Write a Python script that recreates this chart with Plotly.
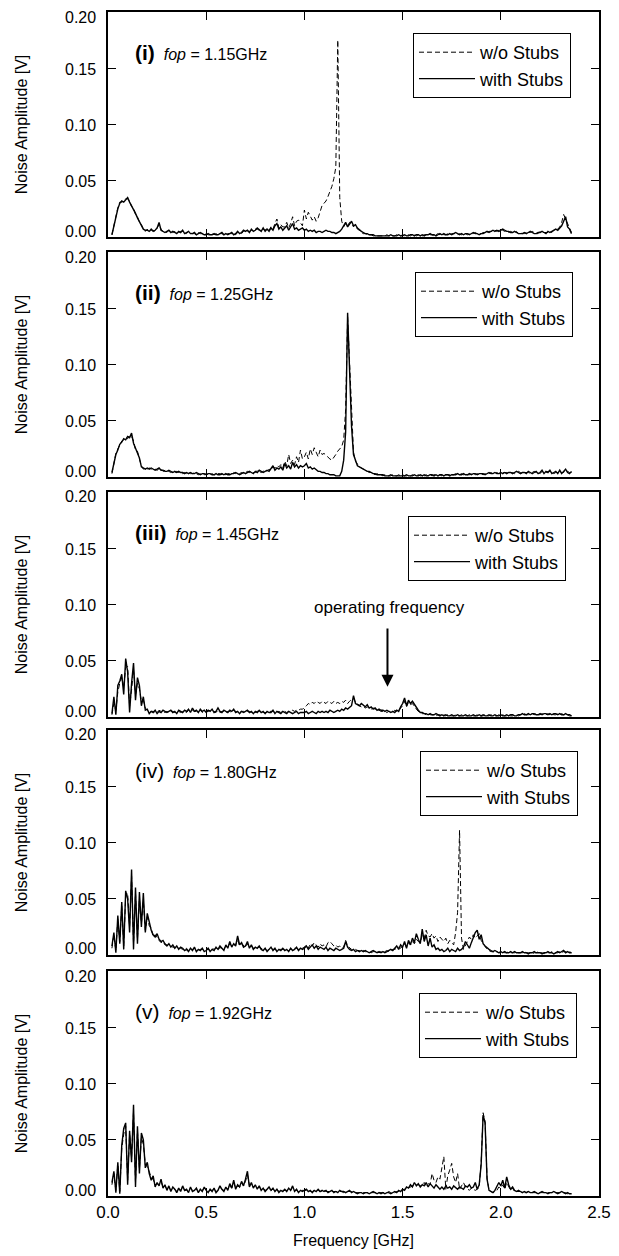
import plotly.graph_objects as go

# ---------------- data (amplitudes, in mV) ----------------
FREQ_GHZ = [
    0.02, 0.03, 0.04, 0.05, 0.06, 0.07, 0.08, 0.09,
    0.10, 0.11, 0.12, 0.13, 0.14, 0.15, 0.16, 0.17, 0.18, 0.19,
    0.20, 0.21, 0.22, 0.23, 0.24, 0.25, 0.26, 0.27, 0.28, 0.29,
    0.30, 0.31, 0.32, 0.33, 0.34, 0.35, 0.36, 0.37, 0.38, 0.39,
    0.40, 0.41, 0.42, 0.43, 0.44, 0.45, 0.46, 0.47, 0.48, 0.49,
    0.50, 0.51, 0.52, 0.53, 0.54, 0.55, 0.56, 0.57, 0.58, 0.59,
    0.60, 0.61, 0.62, 0.63, 0.64, 0.65, 0.66, 0.67, 0.68, 0.69,
    0.70, 0.71, 0.72, 0.73, 0.74, 0.75, 0.76, 0.77, 0.78, 0.79,
    0.80, 0.81, 0.82, 0.83, 0.84, 0.85, 0.86, 0.87, 0.88, 0.89,
    0.90, 0.91, 0.92, 0.93, 0.94, 0.95, 0.96, 0.97, 0.98, 0.99,
    1.00, 1.01, 1.02, 1.03, 1.04, 1.05, 1.06, 1.07, 1.08, 1.09,
    1.10, 1.11, 1.12, 1.13, 1.14, 1.15, 1.16, 1.17, 1.18, 1.19,
    1.20, 1.21, 1.22, 1.23, 1.24, 1.25, 1.26, 1.27, 1.28, 1.29,
    1.30, 1.31, 1.32, 1.33, 1.34, 1.35, 1.36, 1.37, 1.38, 1.39,
    1.40, 1.41, 1.42, 1.43, 1.44, 1.45, 1.46, 1.47, 1.48, 1.49,
    1.50, 1.51, 1.52, 1.53, 1.54, 1.55, 1.56, 1.57, 1.58, 1.59,
    1.60, 1.61, 1.62, 1.63, 1.64, 1.65, 1.66, 1.67, 1.68, 1.69,
    1.70, 1.71, 1.72, 1.73, 1.74, 1.75, 1.76, 1.77, 1.78, 1.79,
    1.80, 1.81, 1.82, 1.83, 1.84, 1.85, 1.86, 1.87, 1.88, 1.89,
    1.90, 1.91, 1.92, 1.93, 1.94, 1.95, 1.96, 1.97, 1.98, 1.99,
    2.00, 2.01, 2.02, 2.03, 2.04, 2.05, 2.06, 2.07, 2.08, 2.09,
    2.10, 2.11, 2.12, 2.13, 2.14, 2.15, 2.16, 2.17, 2.18, 2.19,
    2.20, 2.21, 2.22, 2.23, 2.24, 2.25, 2.26, 2.27, 2.28, 2.29,
    2.30, 2.31, 2.32, 2.33, 2.34, 2.35, 2.36,
]

# ---- panel (i), f_op = 1.15 GHz ----
WO_STUBS_I_MV = [
    2, 11, 17, 26, 31, 31, 32, 34,
    34, 32, 27, 26, 20, 18, 13, 11, 7, 5,
    7, 5, 6, 6, 5, 8, 11, 7, 5, 5,
    4, 6, 5, 4, 5, 3, 4, 5, 5, 3,
    3, 5, 4, 3, 3, 2, 4, 3, 3, 2,
    3, 2, 2, 3, 2, 3, 2, 3, 3, 2,
    2, 3, 3, 3, 3, 2, 4, 4, 3, 5,
    6, 5, 5, 6, 6, 7, 7, 6, 6, 7,
    6, 8, 6, 9, 7, 12, 16, 8, 11, 9,
    9, 13, 8, 12, 18, 10, 14, 15, 12, 10,
    24, 16, 22, 19, 15, 18, 14, 17, 22, 28,
    30, 32, 36, 40, 45, 52, 62, 175, 35, 14,
    9, 12, 10, 13, 12, 9, 11, 7, 6, 4,
    3, 3, 2, 2, 2, 1, 1, 1, 1, 1,
    1, 1, 2, 1, 1, 1, 1, 2, 1, 1,
    2, 1, 1, 2, 1, 2, 2, 1, 2, 2,
    1, 2, 2, 3, 2, 2, 1, 2, 3, 2,
    3, 2, 2, 3, 2, 3, 3, 3, 2, 3,
    2, 3, 3, 2, 3, 3, 3, 4, 3, 3,
    3, 4, 4, 4, 5, 5, 5, 6, 5, 6,
    7, 6, 5, 6, 4, 5, 4, 4, 5, 3,
    4, 3, 3, 4, 4, 4, 5, 4, 3, 3,
    5, 4, 4, 4, 4, 5, 4, 6, 6, 7,
    9, 13, 20, 16, 12, 8, 4,
]
WITH_STUBS_I_MV = [
    2, 10, 18, 25, 30, 32, 31, 33,
    35, 31, 28, 25, 21, 17, 14, 10, 7, 6,
    6, 5, 7, 5, 6, 8, 13, 6, 5, 4,
    5, 6, 4, 5, 4, 3, 5, 4, 6, 3,
    4, 5, 3, 3, 4, 2, 3, 4, 3, 2,
    2, 3, 2, 2, 3, 2, 2, 3, 4, 2,
    3, 2, 3, 4, 2, 3, 5, 3, 4, 6,
    5, 6, 4, 7, 5, 6, 8, 6, 5, 8,
    5, 7, 5, 8, 6, 10, 12, 7, 9, 6,
    8, 10, 6, 9, 12, 7, 8, 6, 7, 8,
    6, 7, 5, 6, 5, 6, 4, 5, 5, 4,
    5, 6, 5, 5, 4, 4, 3, 4, 5, 7,
    10, 13, 9, 12, 14, 10, 11, 8, 6, 5,
    4, 3, 3, 2, 2, 2, 1, 1, 1, 1,
    1, 1, 1, 1, 2, 1, 1, 1, 2, 1,
    1, 2, 1, 1, 2, 2, 1, 2, 2, 1,
    2, 1, 2, 2, 3, 2, 2, 1, 2, 3,
    2, 3, 2, 2, 3, 2, 3, 4, 3, 2,
    3, 2, 3, 3, 2, 3, 4, 3, 3, 2,
    3, 3, 4, 5, 4, 5, 6, 5, 6, 5,
    6, 7, 6, 5, 5, 4, 4, 5, 4, 3,
    3, 3, 4, 3, 4, 5, 4, 3, 3, 4,
    4, 5, 4, 3, 5, 4, 5, 6, 7, 6,
    8, 10, 14, 18, 9, 7, 3,
]

# ---- panel (ii), f_op = 1.25 GHz ----
WO_STUBS_II_MV = [
    3, 11, 21, 25, 28, 32, 33, 35,
    34, 37, 36, 32, 24, 23, 16, 10, 7, 8,
    7, 8, 7, 6, 7, 6, 7, 7, 5, 6,
    6, 5, 4, 5, 4, 5, 4, 4, 3, 4,
    3, 4, 3, 3, 4, 3, 2, 3, 3, 2,
    3, 2, 2, 3, 2, 2, 3, 3, 2, 3,
    2, 3, 3, 2, 4, 3, 3, 3, 4, 3,
    4, 5, 4, 5, 4, 4, 6, 5, 4, 5,
    6, 5, 7, 6, 9, 8, 10, 9, 11, 8,
    14, 10, 20, 12, 15, 11, 18, 13, 24, 16,
    18, 22, 16, 25, 20, 26, 22, 18, 24, 20,
    21, 19, 18, 16, 15, 17, 20, 23, 25, 27,
    33, 60, 142, 100, 55, 22, 14, 11, 9, 8,
    7, 6, 5, 4, 4, 3, 2, 3, 2, 2,
    1, 2, 1, 1, 1, 2, 1, 1, 2, 1,
    2, 1, 1, 2, 1, 2, 1, 1, 2, 1,
    2, 1, 2, 1, 2, 1, 2, 2, 1, 2,
    1, 2, 2, 2, 2, 1, 2, 3, 2, 2,
    3, 2, 3, 2, 2, 3, 3, 2, 3, 2,
    3, 2, 3, 3, 3, 4, 3, 3, 4, 3,
    3, 4, 4, 4, 3, 4, 4, 3, 4, 5,
    4, 3, 4, 4, 4, 3, 4, 5, 4, 4,
    3, 5, 4, 4, 5, 5, 4, 3, 4, 4,
    5, 4, 4, 6, 5, 4, 4,
]
WITH_STUBS_II_MV = [
    4, 12, 20, 24, 29, 31, 34, 33,
    36, 35, 39, 30, 26, 22, 17, 9, 8, 7,
    8, 7, 8, 7, 6, 7, 8, 6, 6, 5,
    5, 6, 5, 4, 5, 4, 5, 4, 4, 3,
    4, 3, 4, 3, 3, 4, 3, 2, 3, 3,
    2, 3, 3, 2, 2, 3, 2, 2, 3, 2,
    3, 2, 2, 3, 3, 4, 3, 2, 3, 4,
    3, 4, 5, 4, 3, 5, 4, 6, 5, 4,
    5, 6, 5, 7, 10, 6, 8, 7, 9, 6,
    12, 8, 10, 7, 13, 9, 11, 8, 10, 9,
    10, 12, 8, 9, 7, 8, 6, 5, 5, 4,
    4, 3, 3, 2, 2, 2, 1, 1, 1, 5,
    15, 40, 146, 95, 45, 20, 14, 10, 9, 8,
    7, 6, 5, 5, 4, 3, 3, 2, 2, 2,
    2, 1, 1, 1, 2, 1, 1, 1, 1, 1,
    1, 1, 2, 1, 1, 1, 2, 1, 1, 2,
    1, 2, 1, 1, 2, 2, 1, 2, 1, 2,
    2, 1, 2, 2, 1, 2, 2, 2, 3, 2,
    2, 3, 2, 2, 3, 2, 3, 3, 2, 3,
    3, 3, 2, 3, 4, 3, 3, 4, 3, 3,
    4, 3, 4, 3, 4, 4, 3, 4, 5, 4,
    3, 4, 4, 3, 5, 4, 3, 4, 5, 3,
    4, 6, 3, 5, 4, 6, 3, 4, 5, 3,
    6, 3, 5, 7, 4, 3, 5,
]

# ---- panel (iii), f_op = 1.45 GHz ----
WO_STUBS_III_MV = [
    2, 12, 6, 22, 30, 35, 26, 44,
    45, 10, 24, 42, 20, 30, 25, 14, 15, 8,
    6, 4, 5, 5, 4, 4, 6, 5, 5, 4,
    5, 4, 5, 5, 4, 4, 5, 4, 5, 5,
    4, 6, 5, 6, 5, 5, 5, 6, 4, 5,
    5, 5, 6, 5, 5, 4, 6, 4, 5, 5,
    4, 5, 5, 4, 6, 5, 4, 4, 5, 5,
    4, 5, 5, 4, 4, 4, 5, 5, 5, 4,
    4, 4, 5, 5, 5, 4, 4, 5, 4, 5,
    5, 4, 5, 5, 6, 5, 6, 6, 7, 7,
    8, 10, 12, 11, 13, 12, 14, 13, 12, 14,
    13, 12, 14, 13, 12, 14, 12, 13, 12, 14,
    13, 15, 12, 14, 16, 17, 13, 12, 10, 9,
    9, 8, 9, 8, 7, 8, 7, 6, 6, 5,
    5, 5, 4, 5, 5, 4, 6, 5, 6, 8,
    10, 14, 9, 13, 11, 12, 9, 7, 5, 4,
    3, 3, 2, 3, 2, 2, 2, 1, 2, 2,
    1, 2, 1, 2, 1, 1, 1, 2, 1, 1,
    2, 1, 1, 1, 2, 1, 1, 1, 2, 1,
    1, 1, 2, 1, 1, 2, 1, 1, 1, 2,
    1, 2, 1, 1, 2, 1, 1, 2, 2, 1,
    2, 2, 3, 2, 2, 2, 3, 2, 3, 2,
    2, 3, 2, 2, 3, 2, 3, 2, 2, 3,
    2, 3, 2, 2, 2, 1, 1,
]
WITH_STUBS_III_MV = [
    3, 18, 2, 28, 32, 38, 20, 52,
    40, 4, 30, 48, 15, 35, 28, 10, 18, 6,
    7, 3, 5, 4, 6, 3, 5, 4, 6, 5,
    4, 5, 6, 4, 5, 3, 6, 5, 4, 6,
    5, 7, 4, 8, 5, 6, 4, 7, 5, 6,
    4, 6, 5, 7, 4, 5, 8, 5, 4, 6,
    5, 4, 6, 5, 7, 4, 5, 3, 5, 4,
    5, 6, 4, 5, 3, 5, 4, 6, 4, 5,
    3, 5, 4, 4, 6, 3, 5, 4, 3, 5,
    4, 3, 5, 4, 3, 4, 5, 3, 4, 4,
    4, 5, 3, 4, 5, 4, 3, 5, 4, 5,
    4, 5, 4, 6, 5, 4, 5, 6, 5, 7,
    6, 8, 7, 9, 10, 19, 12, 11, 10, 12,
    10, 9, 11, 8, 9, 7, 8, 6, 7, 6,
    6, 5, 6, 5, 4, 5, 4, 6, 5, 9,
    12, 17, 10, 15, 12, 14, 11, 8, 6, 4,
    4, 3, 3, 2, 3, 2, 2, 3, 2, 1,
    2, 1, 2, 1, 1, 2, 1, 1, 2, 1,
    1, 1, 2, 1, 1, 1, 2, 1, 1, 2,
    1, 2, 1, 1, 2, 1, 1, 2, 1, 1,
    2, 1, 1, 2, 1, 2, 2, 1, 1, 2,
    2, 3, 2, 2, 3, 2, 3, 3, 2, 2,
    3, 2, 3, 3, 2, 3, 2, 3, 3, 2,
    3, 2, 2, 3, 2, 2, 1,
]

# ---- panel (iv), f_op = 1.80 GHz ----
WO_STUBS_IV_MV = [
    6, 18, 4, 32, 12, 44, 8, 52,
    55, 25, 70, 10, 55, 14, 50, 28, 48, 22,
    34, 26, 24, 16, 18, 15, 13, 11, 12, 9,
    9, 8, 8, 7, 7, 6, 6, 6, 5, 5,
    6, 4, 5, 5, 6, 4, 4, 5, 5, 4,
    5, 5, 4, 6, 5, 6, 4, 7, 5, 5,
    8, 7, 10, 8, 9, 9, 14, 8, 10, 8,
    7, 10, 7, 8, 6, 6, 7, 7, 6, 5,
    5, 4, 5, 6, 5, 5, 4, 5, 5, 5,
    5, 4, 4, 5, 5, 6, 6, 5, 5, 6,
    7, 9, 6, 10, 8, 11, 9, 7, 10, 8,
    9, 7, 11, 12, 10, 8, 9, 7, 8, 6,
    7, 13, 8, 6, 5, 4, 5, 4, 4, 3,
    4, 3, 3, 3, 2, 3, 3, 3, 2, 3,
    2, 3, 4, 3, 4, 5, 5, 6, 7, 6,
    8, 10, 7, 11, 9, 12, 10, 14, 12, 11,
    18, 15, 22, 17, 16, 19, 15, 17, 12, 16,
    14, 12, 15, 10, 13, 11, 9, 20, 38, 111,
    15, 5, 8, 12, 16, 14, 18, 15, 17, 19,
    13, 10, 7, 5, 4, 3, 3, 2, 3, 2,
    2, 3, 2, 2, 3, 2, 2, 2, 3, 2,
    2, 2, 3, 2, 2, 2, 1, 2, 2, 3,
    2, 2, 1, 2, 2, 2, 3, 2, 2, 2,
    3, 2, 3, 3, 2, 3, 2,
]
WITH_STUBS_IV_MV = [
    8, 20, 2, 35, 10, 47, 5, 57,
    50, 20, 76, 5, 60, 10, 56, 25, 55, 20,
    37, 28, 22, 18, 16, 19, 14, 12, 13, 10,
    8, 10, 7, 9, 6, 8, 5, 7, 6, 4,
    5, 3, 6, 4, 7, 3, 5, 4, 6, 3,
    4, 6, 3, 5, 4, 7, 5, 8, 6, 4,
    9, 6, 12, 7, 10, 8, 17, 9, 11, 7,
    8, 12, 6, 9, 5, 7, 6, 8, 5, 4,
    6, 3, 5, 7, 4, 6, 3, 5, 4, 6,
    4, 5, 3, 6, 4, 5, 7, 4, 6, 5,
    6, 8, 5, 7, 9, 6, 8, 5, 7, 6,
    5, 7, 4, 6, 5, 4, 6, 5, 4, 5,
    6, 12, 7, 5, 4, 5, 3, 4, 3, 4,
    3, 4, 3, 2, 3, 4, 3, 2, 3, 2,
    3, 2, 3, 4, 5, 4, 6, 8, 5, 9,
    7, 12, 6, 13, 9, 15, 11, 19, 14, 10,
    23, 12, 18, 8, 15, 7, 9, 5, 6, 4,
    5, 3, 4, 6, 3, 5, 4, 3, 6, 4,
    5, 7, 12, 9, 6, 11, 15, 20, 22, 14,
    18, 10, 8, 6, 5, 4, 3, 4, 3, 2,
    3, 2, 3, 2, 2, 3, 2, 3, 2, 2,
    2, 3, 2, 2, 1, 2, 2, 3, 2, 2,
    2, 1, 2, 2, 3, 2, 2, 1, 2, 3,
    2, 3, 4, 2, 3, 2, 2,
]

# ---- panel (v), f_op = 1.92 GHz ----
WO_STUBS_V_MV = [
    10, 20, 5, 28, 4, 42, 55, 62,
    14, 55, 34, 75, 12, 58, 24, 52, 46, 28,
    26, 22, 16, 15, 10, 11, 10, 13, 8, 9,
    6, 8, 5, 7, 6, 4, 6, 5, 8, 5,
    5, 4, 7, 5, 5, 6, 4, 5, 5, 7,
    5, 4, 5, 5, 6, 4, 5, 8, 6, 5,
    7, 6, 10, 7, 12, 7, 9, 8, 12, 9,
    13, 19, 9, 11, 8, 9, 7, 8, 6, 7,
    5, 6, 7, 5, 6, 5, 6, 4, 5, 5,
    5, 5, 6, 5, 8, 5, 5, 4, 5, 5,
    5, 5, 5, 4, 4, 5, 5, 5, 4, 4,
    5, 4, 4, 4, 4, 4, 4, 4, 4, 4,
    3, 4, 4, 4, 4, 3, 3, 3, 3, 3,
    3, 3, 3, 3, 3, 3, 3, 3, 3, 3,
    3, 3, 3, 4, 3, 3, 3, 4, 4, 5,
    5, 6, 7, 7, 8, 9, 10, 10, 10, 9,
    10, 12, 9, 11, 10, 20, 14, 12, 17, 15,
    24, 35, 6, 18, 23, 29, 17, 12, 20, 6,
    9, 12, 8, 6, 5, 7, 6, 5, 6, 8,
    30, 74, 66, 16, 5, 4, 3, 4, 5, 8,
    7, 10, 6, 12, 8, 5, 7, 4, 4, 4,
    4, 3, 3, 3, 4, 3, 3, 3, 3, 2,
    3, 3, 3, 3, 3, 3, 3, 3, 3, 3,
    3, 3, 3, 3, 2, 2, 2,
]
WITH_STUBS_V_MV = [
    12, 22, 3, 30, 2, 45, 60, 65,
    10, 58, 30, 81, 8, 62, 20, 56, 50, 25,
    30, 20, 14, 18, 8, 12, 9, 15, 7, 10,
    5, 9, 4, 8, 6, 3, 7, 4, 9, 5,
    6, 3, 8, 4, 5, 7, 3, 6, 4, 8,
    5, 3, 6, 4, 7, 3, 5, 9, 6, 4,
    8, 5, 11, 7, 14, 6, 10, 8, 13, 9,
    15, 22, 8, 12, 7, 10, 6, 9, 5, 7,
    4, 6, 8, 5, 7, 4, 6, 3, 5, 4,
    6, 4, 7, 5, 9, 4, 6, 3, 5, 4,
    5, 6, 4, 5, 3, 5, 4, 6, 4, 5,
    4, 5, 3, 4, 5, 3, 4, 3, 5, 4,
    4, 3, 4, 5, 3, 4, 3, 2, 3, 3,
    2, 3, 3, 2, 3, 4, 3, 2, 3, 2,
    3, 2, 3, 3, 2, 3, 4, 3, 5, 4,
    6, 5, 8, 7, 10, 8, 12, 9, 11, 8,
    10, 9, 12, 8, 11, 9, 7, 10, 8, 6,
    8, 6, 9, 7, 8, 6, 9, 7, 6, 8,
    7, 6, 9, 8, 10, 7, 8, 12, 6, 10,
    28, 72, 65, 15, 5, 4, 3, 5, 8, 12,
    9, 14, 7, 17, 10, 6, 8, 5, 4, 5,
    4, 3, 4, 3, 4, 3, 3, 4, 3, 2,
    3, 4, 3, 3, 2, 3, 3, 4, 3, 2,
    3, 4, 3, 2, 3, 2, 2,
]

PANEL_LABELS = ["(i)", "(ii)", "(iii)", "(iv)", "(v)"]
PANEL_LABEL_BOLD = [True, True, True, False, False]
F_OP_TEXT = ["1.15GHz", "1.25GHz", "1.45GHz", "1.80GHz", "1.92GHz"]
WO_SERIES = [WO_STUBS_I_MV, WO_STUBS_II_MV, WO_STUBS_III_MV, WO_STUBS_IV_MV, WO_STUBS_V_MV]
WITH_SERIES = [WITH_STUBS_I_MV, WITH_STUBS_II_MV, WITH_STUBS_III_MV, WITH_STUBS_IV_MV, WITH_STUBS_V_MV]
SERIES_NAMES = ["w/o Stubs", "with Stubs"]
X_TICKS = [0.0, 0.5, 1.0, 1.5, 2.0, 2.5]
Y_TICKS = [0.00, 0.05, 0.10, 0.15, 0.20]
ARROW_FREQ_GHZ = 1.423
ARROW_TIP_V = 0.027
ARROW_TAIL_V = 0.080
ARROW_TEXT = "operating frequency"

for nm, arr in [("WO", s) for s in WO_SERIES] + [("WITH", s) for s in WITH_SERIES]:
    if len(arr) != len(FREQ_GHZ):
        raise ValueError(f"{nm} length {len(arr)} != {len(FREQ_GHZ)}")

# ---------------- layout (pixel geometry of the reference) ----------------
W, H = 619, 1256
PLOT_L, PLOT_R = 108, 599
PANEL_TOPS = [12, 252, 492, 730, 971]
PANEL_H = 225
M_T = 12
M_B = H - (PANEL_TOPS[-1] + PANEL_H)
PAPER_H = H - M_T - M_B
PAPER_W = PLOT_R - PLOT_L
# vertical nudge (px, up = +) of each y tick label, as in the reference
Y_LABEL_SHIFT = [6, -1, -1, -1, -5]

def yfrac(px):
    return (H - M_B - px) / PAPER_H

def xfrac(px):
    return (px - PLOT_L) / PAPER_W

LEGEND_BOX = [(571, 33), (573, 272), (566, 516), (578, 751), (577, 993)]  # right edge, top (px)

FONT = "Liberation Sans, Arial, Helvetica, sans-serif"

fig = go.Figure()
layout = dict(
    width=W, height=H,
    margin=dict(l=PLOT_L, r=W - PLOT_R, t=M_T, b=M_B, autoexpand=False),
    paper_bgcolor="white", plot_bgcolor="white",
    font=dict(family=FONT, size=16, color="black"),
    showlegend=True,
)
annotations = []

for k in range(5):
    n = "" if k == 0 else str(k + 1)
    xa, ya = "x" + n, "y" + n
    leg = "legend" + n
    wo_v = [v / 1000 for v in WO_SERIES[k]]
    wi_v = [v / 1000 for v in WITH_SERIES[k]]
    fig.add_trace(go.Scatter(
        x=FREQ_GHZ, y=wo_v, mode="lines", name=SERIES_NAMES[0],
        line=dict(color="black", width=1.0, dash="5px,3px"),
        xaxis=xa, yaxis=ya, legend=leg))
    fig.add_trace(go.Scatter(
        x=FREQ_GHZ, y=wi_v, mode="lines", name=SERIES_NAMES[1],
        line=dict(color="black", width=1.4),
        xaxis=xa, yaxis=ya, legend=leg))

    top = PANEL_TOPS[k]
    dom = [yfrac(top + PANEL_H), yfrac(top)]
    last = (k == 4)
    layout["xaxis" + n] = dict(
        domain=[0, 1], range=[0, 2.5], anchor=ya, automargin=False,
        tickvals=X_TICKS, tickformat=".1f",
        showticklabels=last, ticks="inside", ticklen=8, tickwidth=1.2,
        tickcolor="black", showline=True, linecolor="black", linewidth=1.5,
        mirror="ticks", showgrid=False, zeroline=False,
        tickfont=dict(size=17),
        title=dict(text="Frequency [GHz]" if last else "", font=dict(size=16), standoff=14),
    )
    layout["yaxis" + n] = dict(
        domain=dom, range=[0, 0.2], anchor=xa, automargin=False,
        tickvals=Y_TICKS, showticklabels=False,
        ticks="inside", ticklen=8, tickwidth=1.2, tickcolor="black",
        showline=True, linecolor="black", linewidth=1.5, mirror="ticks",
        showgrid=False, zeroline=False,
        title=dict(text="Noise Amplitude [V]", font=dict(size=16), standoff=75),
    )
    # y tick labels (nudged inward at the ends like the reference)
    for tv, sh in zip(Y_TICKS, Y_LABEL_SHIFT):
        annotations.append(dict(
            xref="paper", yref=ya, x=0, y=tv, xanchor="right", yanchor="middle",
            xshift=-10, yshift=sh, showarrow=False, text=f"{tv:.2f}",
            font=dict(size=16),
        ))
    rx, ty = LEGEND_BOX[k]
    layout[leg] = dict(
        x=xfrac(rx), y=yfrac(ty), xanchor="right", yanchor="top",
        xref="paper", yref="paper",
        bordercolor="black", borderwidth=1, bgcolor="white",
        font=dict(size=18), itemwidth=56, tracegroupgap=0,
    )
    lab = PANEL_LABELS[k]
    if PANEL_LABEL_BOLD[k]:
        lab = "<b>" + lab + "</b>"
    annotations.append(dict(
        xref=xa, yref=ya, x=0.125, y=0.1636, xanchor="left", yanchor="middle",
        showarrow=False,
        text="<span style='font-size:21px'>" + lab + "</span>\u00a0\u00a0<i>fop</i> = " + F_OP_TEXT[k],
        font=dict(size=16),
    ))

# operating frequency arrow in panel (iii)
annotations.append(dict(
    xref="x3", yref="y3", x=ARROW_FREQ_GHZ, y=ARROW_TIP_V,
    axref="x3", ayref="y3", ax=ARROW_FREQ_GHZ, ay=ARROW_TAIL_V,
    showarrow=True, arrowhead=2, arrowsize=1.2, arrowwidth=2, arrowcolor="black", text="",
))
annotations.append(dict(
    xref="x3", yref="y3", x=1.434, y=0.097, xanchor="center", yanchor="middle",
    showarrow=False, text=ARROW_TEXT, font=dict(size=17),
))

layout["annotations"] = annotations
fig.update_layout(**layout)
fig.write_html("out.html", config={"displayModeBar": False},
               post_script="document.body.style.margin='0px';")
